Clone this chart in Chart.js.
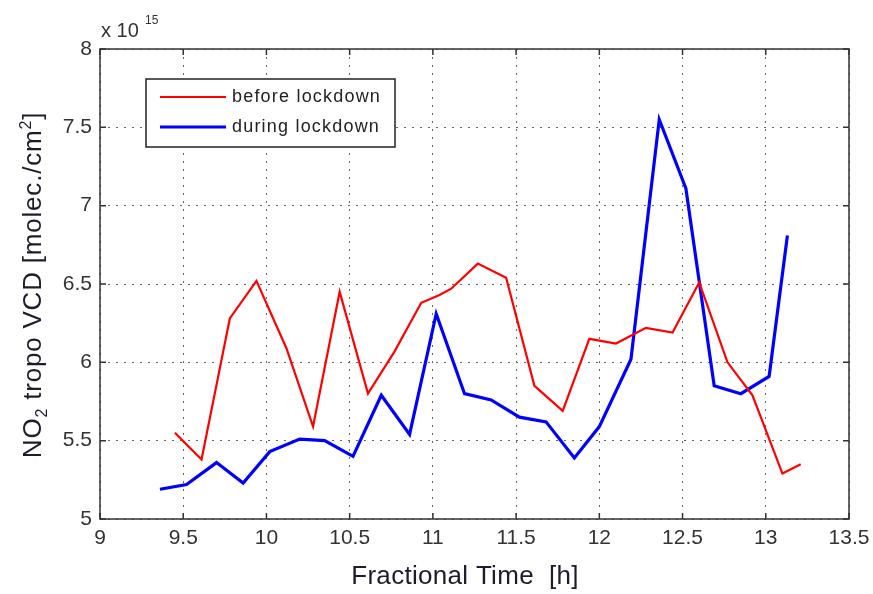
<html>
  <head>
    <script src="https://cdnjs.cloudflare.com/ajax/libs/Chart.js/4.4.0/chart.umd.min.js"></script>
  </head>
  <body style="margin:0;background:#fff">
    <canvas id="chart" width="873" height="594"></canvas>
    <script>
      // values, NO2 in units of 1e15 molec/cm2
      const beforeTime = [9.45, 9.61, 9.78, 9.94, 10.12, 10.28, 10.44, 10.61, 10.77, 10.93, 11.04, 11.11, 11.27, 11.44, 11.61, 11.78, 11.94, 12.10, 12.28, 12.44, 12.60, 12.77, 12.92, 13.10, 13.21];
      const beforeNO2 = [5.55, 5.38, 6.28, 6.52, 6.09, 5.59, 6.45, 5.80, 6.07, 6.38, 6.43, 6.47, 6.63, 6.54, 5.85, 5.69, 6.15, 6.12, 6.22, 6.19, 6.51, 6.00, 5.79, 5.29, 5.35];
      const duringTime = [9.36, 9.52, 9.70, 9.86, 10.02, 10.20, 10.35, 10.52, 10.69, 10.86, 11.02, 11.19, 11.35, 11.52, 11.68, 11.85, 12.00, 12.19, 12.36, 12.52, 12.69, 12.85, 13.02, 13.13];
      const duringNO2 = [5.19, 5.22, 5.36, 5.23, 5.43, 5.51, 5.50, 5.40, 5.79, 5.54, 6.31, 5.80, 5.76, 5.65, 5.62, 5.39, 5.59, 6.02, 7.55, 7.11, 5.85, 5.80, 5.91, 6.81];
      const seriesNames = ['before lockdown', 'during lockdown'];
      const xTitle = 'Fractional Time  [h]';

      const font = 'Arial, "Liberation Sans", sans-serif';

      function pairs(xs, ys) {
        return xs.map(function(x, i) { return {x: x, y: ys[i]}; });
      }

      const decor = {
        id: 'decor',
        afterDraw(chart) {
          const ctx = chart.ctx;
          const a = chart.chartArea;
          const xs = chart.scales.x, ys = chart.scales.y;
          ctx.save();
          // frame
          ctx.strokeStyle = '#333';
          ctx.lineWidth = 1.5;
          ctx.strokeRect(a.left, a.top, a.right - a.left, a.bottom - a.top);
          // inward ticks on all four sides
          xs.ticks.forEach(function(t) {
            const px = xs.getPixelForValue(t.value);
            ctx.beginPath();
            ctx.moveTo(px, a.bottom); ctx.lineTo(px, a.bottom - 6);
            ctx.moveTo(px, a.top); ctx.lineTo(px, a.top + 6);
            ctx.stroke();
          });
          ys.ticks.forEach(function(t) {
            const py = ys.getPixelForValue(t.value);
            ctx.beginPath();
            ctx.moveTo(a.left, py); ctx.lineTo(a.left + 6, py);
            ctx.moveTo(a.right, py); ctx.lineTo(a.right - 6, py);
            ctx.stroke();
          });
          // exponent
          ctx.fillStyle = '#333';
          ctx.textBaseline = 'alphabetic';
          ctx.textAlign = 'left';
          ctx.font = '20px ' + font;
          ctx.fillText('x 10', 101, 37);
          ctx.font = '12px ' + font;
          ctx.fillText('15', 145, 24);
          // legend
          ctx.fillStyle = '#fff';
          ctx.fillRect(146, 79, 249, 68);
          ctx.strokeStyle = '#222';
          ctx.lineWidth = 1.5;
          ctx.strokeRect(146, 79, 249, 68);
          const ds = chart.data.datasets;
          [97, 127].forEach(function(y, i) {
            ctx.strokeStyle = ds[i].borderColor;
            ctx.lineWidth = ds[i].borderWidth;
            ctx.beginPath();
            ctx.moveTo(160, y); ctx.lineTo(226, y);
            ctx.stroke();
            ctx.fillStyle = '#222';
            ctx.font = '18px ' + font;
            ctx.textBaseline = 'middle';
            ctx.letterSpacing = '1.2px';
            ctx.fillText(ds[i].label, 232, y);
            ctx.letterSpacing = '0px';
          });
          // x title
          ctx.fillStyle = '#1c1c2c';
          ctx.font = '26px ' + font;
          ctx.textAlign = 'center';
          ctx.textBaseline = 'middle';
          ctx.letterSpacing = '0.3px';
          ctx.fillText(xTitle, 465, 577);
          // y title with sub/superscript
          ctx.letterSpacing = '0.8px';
          const parts = [
            ['NO', 26, 0], ['2', 16, 6], [' tropo VCD [molec./cm', 26, 0], ['2', 16, -10], [']', 26, 0]
          ];
          let total = 0;
          parts.forEach(function(p) { ctx.font = p[1] + 'px ' + font; total += ctx.measureText(p[0]).width; });
          ctx.translate(31, 285);
          ctx.rotate(-Math.PI / 2);
          ctx.textAlign = 'left';
          ctx.textBaseline = 'alphabetic';
          let cx = -total / 2;
          parts.forEach(function(p) {
            ctx.font = p[1] + 'px ' + font;
            ctx.fillText(p[0], cx, 10 + p[2]);
            cx += ctx.measureText(p[0]).width;
          });
          ctx.restore();
        }
      };

      new Chart(document.getElementById('chart'), {
        type: 'line',
        data: {
          datasets: [
            {
              label: seriesNames[0],
              data: pairs(beforeTime, beforeNO2),
              borderColor: '#ff0000',
              borderWidth: 2.2,
              pointRadius: 0,
              tension: 0,
              fill: false
            },
            {
              label: seriesNames[1],
              data: pairs(duringTime, duringNO2),
              borderColor: '#0000ff',
              borderWidth: 3.2,
              pointRadius: 0,
              tension: 0,
              fill: false
            }
          ]
        },
        options: {
          responsive: false,
          animation: false,
          devicePixelRatio: 1,
          layout: { padding: { top: 49, right: 24, left: 0, bottom: 0 } },
          plugins: { legend: { display: false }, tooltip: { enabled: false } },
          scales: {
            x: {
              type: 'linear',
              min: 9,
              max: 13.5,
              afterFit: function(s) { s.height = 75; s.paddingRight = 0; s.paddingLeft = 0; },
              ticks: {
                stepSize: 0.5,
                autoSkip: false,
                maxRotation: 0,
                padding: 7,
                color: '#333',
                font: { family: font, size: 21 },
                callback: function(v) { return String(v); }
              },
              grid: { color: '#666', lineWidth: 1, drawTicks: false },
              border: { display: false, dash: [2, 6] }
            },
            y: {
              min: 5,
              max: 8,
              afterFit: function(s) { s.width = 100; s.paddingTop = 0; s.paddingBottom = 0; },
              ticks: {
                stepSize: 0.5,
                padding: 8,
                color: '#333',
                font: { family: font, size: 21 },
                callback: function(v) { return String(v); }
              },
              grid: { color: '#666', lineWidth: 1, drawTicks: false },
              border: { display: false, dash: [2, 6] }
            }
          }
        },
        plugins: [decor]
      });
    </script>
  </body>
</html>
